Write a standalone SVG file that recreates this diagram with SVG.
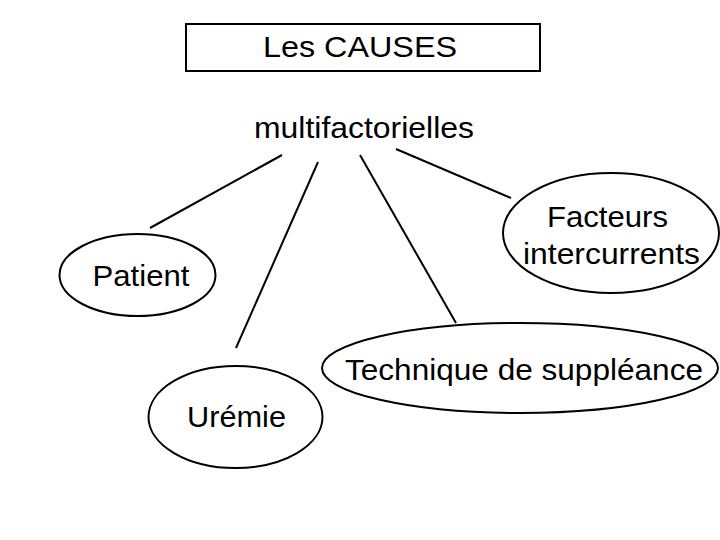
<svg xmlns="http://www.w3.org/2000/svg" width="720" height="540" viewBox="0 0 720 540">
<style>
.t{font-family:"Liberation Sans",Arial,sans-serif;font-size:30px;fill:#000;text-anchor:middle}
.n{fill:#fff;stroke:#000;stroke-width:2}
.c line{stroke:#000;stroke-width:2}
</style>
<rect width="720" height="540" fill="#fff"/>
<g class="c" id="connectors">
<line x1="282" y1="155" x2="150" y2="228"/>
<line x1="318" y1="162" x2="236" y2="348"/>
<line x1="360" y1="155" x2="456" y2="323"/>
<line x1="396" y1="149" x2="511" y2="198"/>
</g>
<g id="title">
<rect class="n" x="186" y="24" width="354" height="47"/>
<text class="t" x="360" y="57" textLength="194" lengthAdjust="spacingAndGlyphs">Les CAUSES</text>
</g>
<g id="multifactorielles">
<text class="t" x="364" y="138" textLength="220" lengthAdjust="spacingAndGlyphs">multifactorielles</text>
</g>
<g id="patient">
<ellipse class="n" cx="137.5" cy="275" rx="78" ry="41"/>
<text class="t" x="141" y="286" textLength="97" lengthAdjust="spacingAndGlyphs">Patient</text>
</g>
<g id="facteurs">
<ellipse class="n" cx="611" cy="233" rx="108" ry="60"/>
<text class="t" x="607.5" y="227" textLength="121" lengthAdjust="spacingAndGlyphs">Facteurs</text>
<text class="t" x="611.5" y="264" textLength="177" lengthAdjust="spacingAndGlyphs">intercurrents</text>
</g>
<g id="technique">
<ellipse class="n" cx="520" cy="368" rx="198" ry="45"/>
<text class="t" x="524" y="380" textLength="358" lengthAdjust="spacingAndGlyphs">Technique de suppléance</text>
</g>
<g id="uremie">
<ellipse class="n" cx="235.5" cy="417" rx="87" ry="51"/>
<text class="t" x="236.5" y="427" textLength="99" lengthAdjust="spacingAndGlyphs">Urémie</text>
</g>
</svg>
